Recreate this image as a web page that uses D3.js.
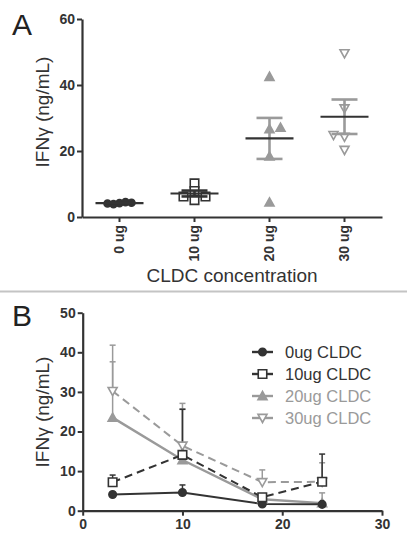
<!DOCTYPE html>
<html><head><meta charset="utf-8">
<script src="https://cdn.jsdelivr.net/npm/d3@7"></script>
<style>body{margin:0;background:#fff}svg{display:block}text{font-family:"Liberation Sans",Arial,sans-serif}</style>
</head><body>
<script>
// ---- Panel A data ----
const catsA = ["0 ug", "10 ug", "20 ug", "30 ug"];
const vals0 = [4.2, 4.5, 3.9, 4.3, 4.1];
const vals10 = [10.2, 5.1, 6.2, 6.2, 7.9];
const vals20 = [42.5, 26.6, 27.1, 4.45, 18.4];
const vals30 = [49.6, 32.9, 24.3, 24.8, 20.3];
const yTicksA = [0, 20, 40, 60];
// ---- Panel B data ----
const timesB = [3, 10, 18, 24];
const seriesNamesB = ["0ug CLDC", "10ug CLDC", "20ug CLDC", "30ug CLDC"];
const meanB0 = [4.1, 4.6, 1.7, 1.6];
const meanB10 = [7.2, 14.1, 3.4, 7.3];
const meanB20 = [23.5, 12.8, 2.9, 1.9];
const meanB30 = [30.2, 16.4, 7.2, 7.3];
const errB0 = [0.4, 1.9, 0.3, 0.3];
const errB10 = [1.8, 11.5, 0.5, 7.0];
const errB20 = [14.1, 12.9, 0.5, 2.6];
const errB30 = [11.6, 10.7, 3.1, 4.8];
const xTicksB = [0, 10, 20, 30];
const yTicksB = [0, 10, 20, 30, 40, 50];

const DARK = "#333333", GRAY = "#9a9a9a";
const W = 407, H = 548;
const svg = d3.select("body").append("svg").attr("width", W).attr("height", H);

function symPath(kind, size) {
  const s = size / 2;
  if (kind === "circle") return d3.symbol(d3.symbolCircle, Math.PI * s * s)();
  if (kind === "square") return `M${-s},${-s}H${s}V${s}H${-s}Z`;
  if (kind === "tri") return `M0,${-s}L${s},${s * 0.8}L${-s},${s * 0.8}Z`;
  if (kind === "tridown") return `M0,${s}L${s},${-s * 0.8}L${-s},${-s * 0.8}Z`;
}

// ================= Panel A =================
const gA = svg.append("g");
const xA = d3.scaleBand().domain(catsA).range([82, 382]);
const yA = d3.scaleLinear().domain([0, 60]).range([217, 19]);

gA.append("text").attr("x", 12).attr("y", 35).attr("font-size", 30).attr("fill", "#222").text("A");

const groupsA = [
  { cat: catsA[0], vals: vals0, sym: "circle", size: 7, fill: DARK, stroke: DARK, mean: DARK, err: DARK, spacing: 6, thr: 5 },
  { cat: catsA[1], vals: vals10, sym: "square", size: 8.5, fill: "white", stroke: DARK, mean: DARK, err: DARK, spacing: 11, thr: 6 },
  { cat: catsA[2], vals: vals20, sym: "tri", size: 9, fill: GRAY, stroke: GRAY, mean: DARK, err: GRAY, spacing: 11, thr: 7 },
  { cat: catsA[3], vals: vals30, sym: "tridown", size: 9, fill: "white", stroke: GRAY, mean: DARK, err: GRAY, spacing: 11, thr: 7 }
];

groupsA.forEach((g, gi) => {
  const cx = xA(g.cat) + xA.bandwidth() / 2;
  // simple beeswarm layout
  const placed = [];
  const dir = gi % 2 === 0 ? 1 : -1;
  g.vals.forEach(v => {
    const py = yA(v);
    const cands = [0];
    for (let k = 1; k < 6; k++) { cands.push(dir * k * g.spacing, -dir * k * g.spacing); }
    let off = 0;
    for (const c of cands) {
      if (!placed.some(p => Math.abs(p.off - c) < g.spacing * 0.9 && Math.abs(p.y - py) < g.thr)) { off = c; break; }
    }
    placed.push({ off, y: py, v });
  });
  gA.selectAll(null).data(placed).enter().append("path")
    .attr("d", symPath(g.sym, g.size))
    .attr("transform", d => `translate(${cx + d.off},${d.y})`)
    .attr("fill", g.fill).attr("stroke", g.stroke).attr("stroke-width", 1.6);
  const m = d3.mean(g.vals);
  const sem = d3.deviation(g.vals) / Math.sqrt(g.vals.length);
  const eg = gA.append("g").attr("stroke", g.err).attr("stroke-width", 2.6);
  eg.append("line").attr("x1", cx).attr("x2", cx).attr("y1", yA(m - sem)).attr("y2", yA(m + sem));
  [m - sem, m + sem].forEach(v => eg.append("line").attr("x1", cx - 13).attr("x2", cx + 13).attr("y1", yA(v)).attr("y2", yA(v)));
  gA.append("line").attr("x1", cx - 24).attr("x2", cx + 24).attr("y1", yA(m)).attr("y2", yA(m))
    .attr("stroke", g.mean).attr("stroke-width", 2.2);
});

const axYA = gA.append("g").attr("transform", "translate(82,0)")
  .call(d3.axisLeft(yA).tickValues(yTicksA).tickSize(5).tickPadding(2).tickSizeOuter(0));
const axXA = gA.append("g").attr("transform", "translate(0,217)")
  .call(d3.axisBottom(xA).tickSize(5).tickSizeOuter(0));
axXA.selectAll("text").attr("transform", "rotate(-90)").attr("text-anchor", "end")
  .attr("x", -8).attr("y", 0).attr("dy", "0.35em");
[axYA, axXA].forEach(a => {
  a.select(".domain").attr("stroke", DARK).attr("stroke-width", 2.2);
  a.selectAll(".tick line").attr("stroke", DARK).attr("stroke-width", 2);
  a.selectAll("text").attr("font-size", 14).attr("font-weight", "bold").attr("fill", DARK)
    .attr("font-family", '"Liberation Sans",Arial,sans-serif');
});
gA.append("text").attr("transform", "translate(49,112) rotate(-90)").attr("text-anchor", "middle")
  .attr("font-size", 19).attr("fill", DARK).text("IFNγ (ng/mL)");
gA.append("text").attr("x", 232).attr("y", 282).attr("text-anchor", "middle")
  .attr("font-size", 19).attr("fill", DARK).text("CLDC concentration");

// separator
svg.append("line").attr("x1", 0).attr("x2", W).attr("y1", 291.5).attr("y2", 291.5)
  .attr("stroke", "#c4c4c4").attr("stroke-width", 2);

// ================= Panel B =================
const gB = svg.append("g");
const xB = d3.scaleLinear().domain([0, 30]).range([82.7, 382]);
const yB = d3.scaleLinear().domain([0, 50]).range([510.7, 312.7]);
gB.append("text").attr("x", 12).attr("y", 326).attr("font-size", 30).attr("fill", "#222").text("B");

const seriesB = [
  { name: seriesNamesB[0], mean: meanB0, err: errB0, color: DARK, sym: "circle", size: 7.5, fill: DARK, dash: null, sw: 2 },
  { name: seriesNamesB[1], mean: meanB10, err: errB10, color: DARK, sym: "square", size: 8.5, fill: "white", dash: "8,5", sw: 2 },
  { name: seriesNamesB[2], mean: meanB20, err: errB20, color: GRAY, sym: "tri", size: 9, fill: GRAY, dash: null, sw: 2.4 },
  { name: seriesNamesB[3], mean: meanB30, err: errB30, color: GRAY, sym: "tridown", size: 9, fill: "white", dash: "8,5", sw: 2 }
];
const drawOrder = [2, 3, 0, 1];
const line = d3.line().x(d => xB(d.t)).y(d => yB(d.v));
// error bars
drawOrder.forEach(i => {
  const s = seriesB[i];
  const pts = timesB.map((t, j) => ({ t, v: s.mean[j], e: s.err[j] }));
  const eg = gB.append("g").attr("stroke", s.color).attr("stroke-width", 1.5);
  pts.forEach(p => {
    eg.append("line").attr("x1", xB(p.t)).attr("x2", xB(p.t)).attr("y1", yB(p.v)).attr("y2", yB(p.v + p.e));
    eg.append("line").attr("x1", xB(p.t) - 3).attr("x2", xB(p.t) + 3).attr("y1", yB(p.v + p.e)).attr("y2", yB(p.v + p.e));
  });
});
drawOrder.forEach(i => {
  const s = seriesB[i];
  const pts = timesB.map((t, j) => ({ t, v: s.mean[j] }));
  gB.append("path").datum(pts).attr("d", line).attr("fill", "none").attr("stroke", s.color)
    .attr("stroke-width", s.sw).attr("stroke-dasharray", s.dash);
});
drawOrder.forEach(i => {
  const s = seriesB[i];
  const pts = timesB.map((t, j) => ({ t, v: s.mean[j] }));
  gB.selectAll(null).data(pts).enter().append("path").attr("d", symPath(s.sym, s.size))
    .attr("transform", d => `translate(${xB(d.t)},${yB(d.v)})`)
    .attr("fill", s.fill).attr("stroke", s.color).attr("stroke-width", 1.6);
});

const axYB = gB.append("g").attr("transform", "translate(82.7,0)")
  .call(d3.axisLeft(yB).tickValues(yTicksB).tickSize(5).tickPadding(2).tickSizeOuter(0));
const axXB = gB.append("g").attr("transform", "translate(0,510.7)")
  .call(d3.axisBottom(xB).tickValues(xTicksB).tickSize(5).tickPadding(3).tickSizeOuter(0));
[axYB, axXB].forEach(a => {
  a.select(".domain").attr("stroke", DARK).attr("stroke-width", 2.2);
  a.selectAll(".tick line").attr("stroke", DARK).attr("stroke-width", 2);
  a.selectAll("text").attr("font-size", 14).attr("font-weight", "bold").attr("fill", DARK)
    .attr("font-family", '"Liberation Sans",Arial,sans-serif');
});
gB.append("text").attr("transform", "translate(49,412) rotate(-90)").attr("text-anchor", "middle")
  .attr("font-size", 19).attr("fill", DARK).text("IFNγ (ng/mL)");

// legend
const leg = gB.append("g");
const legY = d3.scalePoint().domain(seriesNamesB).range([352, 418]);
seriesB.forEach(s => {
  const y = legY(s.name);
  leg.append("line").attr("x1", 252).attr("x2", 273).attr("y1", y).attr("y2", y)
    .attr("stroke", s.color).attr("stroke-width", 2.4);
  leg.append("path").attr("d", symPath(s.sym, s.size)).attr("transform", `translate(262.5,${y})`)
    .attr("fill", s.fill).attr("stroke", s.color).attr("stroke-width", 1.6);
  leg.append("text").attr("x", 285).attr("y", y).attr("dy", "0.35em").attr("font-size", 16.5)
    .attr("fill", s.color).text(s.name);
});
</script>
</body></html>
